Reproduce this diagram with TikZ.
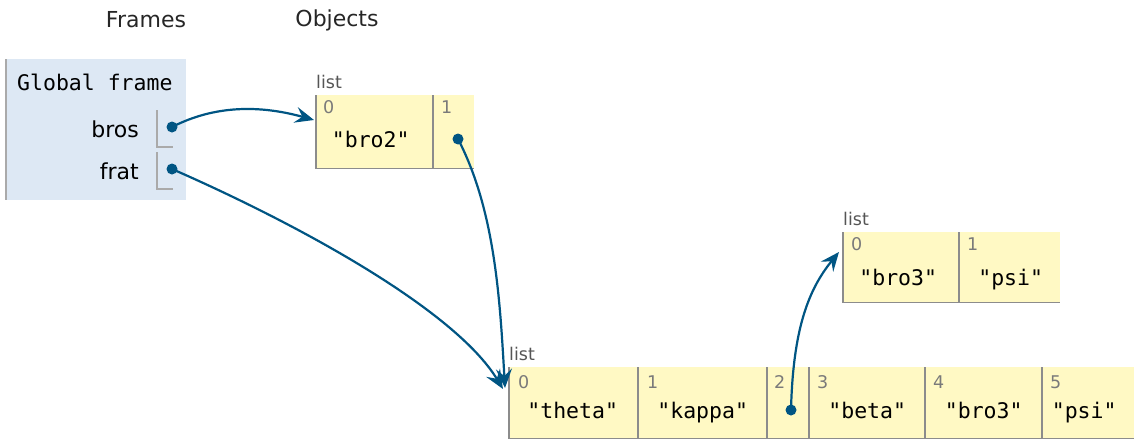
\documentclass[tikz,border=0pt]{standalone}
\usepackage{fontspec}
\setmainfont{DejaVu Sans}
\newfontfamily\monof{DejaVu Sans Mono}
\usetikzlibrary{arrows.meta,calc}
\definecolor{framebg}{HTML}{DDE8F4}
\definecolor{framebar}{HTML}{AAAAAA}
\definecolor{listbg}{HTML}{FFF9C4}
\definecolor{ptrblue}{HTML}{005583}
\definecolor{bordergray}{HTML}{8C8C8C}
\definecolor{idxgray}{HTML}{7A7A7A}
\definecolor{labgray}{HTML}{555555}
\tikzset{
  header/.style={font=\fontsize{22}{26}\selectfont, text=black!85, inner sep=0},
  frametitle/.style={font=\monof\fontsize{21.5}{25}\selectfont, anchor=base west, inner sep=0},
  varname/.style={font=\fontsize{22}{26}\selectfont, anchor=base east, inner sep=0},
  cellbox/.style={rectangle, fill=listbg, inner sep=0, anchor=north west},
  border/.style={draw=bordergray, line width=1.6pt},
  idx/.style={font=\fontsize{17.5}{21}\selectfont, text=idxgray, anchor=base west, inner sep=0},
  val/.style={font=\monof\fontsize{21.5}{25}\selectfont, anchor=base, inner sep=0},
  listlab/.style={font=\fontsize{17.5}{21}\selectfont, text=labgray, anchor=base west, inner sep=0},
  dot/.style={circle, fill=ptrblue, inner sep=0, minimum size=11pt},
  ptr/.style={draw=ptrblue, line width=2.2pt, -{Stealth[length=19pt, width=16pt, inset=7pt]}},
  slot/.style={draw=framebar, line width=1.3pt},
}
\begin{document}
\begin{tikzpicture}[x=1pt, y=-1pt]
\useasboundingbox (0,0) rectangle (1134,439);

% headers
\node[header] (hframes) at (146,20) {Frames};
\node[header] (hobjects) at (337,20) {Objects};

% global frame
\node[rectangle, fill=framebg, inner sep=0, anchor=north west,
      minimum width=180, minimum height=141] (gframe) at (6,59) {};
\draw[draw=framebar, line width=1.6pt] (gframe.north west) -- (gframe.south west);
\node[frametitle] (gtitle) at (17,90) {Global frame};
\node[varname] (vbros) at (139,137) {bros};
\node[varname] (vfrat) at (139,179) {frat};
\coordinate (s1) at (157,110);
\coordinate (s2) at (157,152);
\draw[slot] (s1) |- ++(16,37);
\draw[slot] (s2) |- ++(16,37);
\node[dot] (dbros) at (172,127) {};
\node[dot] (dfrat) at (172,169) {};

% list 1
\node[listlab] (l1lab) at (316,88) {list};
\node[cellbox, minimum width=117, minimum height=73] (a0) at (316,95) {};
\node[cellbox, minimum width=41, minimum height=73] (a1) at (433,95) {};
\draw[border] (a0.north west) |- (a0.south east);
\draw[border] (a1.north west) |- (a1.south east);
\node[idx] (a0i) at ($(a0.north west)+(7,18)$) {0};
\node[idx] (a1i) at ($(a1.north west)+(8,18)$) {1};
\node[val] (a0v) at ($(a0.north)+(-4,52)$) {"bro2"};
\node[dot] (da1) at (458,139) {};

% list 2
\node[listlab] (l2lab) at (843,225) {list};
\node[cellbox, minimum width=116, minimum height=70] (b0) at (843,232) {};
\node[cellbox, minimum width=101, minimum height=70] (b1) at (959,232) {};
\draw[border] (b0.north west) |- (b0.south east);
\draw[border] (b1.north west) |- (b1.south east);
\node[idx] (b0i) at ($(b0.north west)+(8,18)$) {0};
\node[idx] (b1i) at ($(b1.north west)+(8,18)$) {1};
\node[val] (b0v) at ($(b0.north)+(-3,53)$) {"bro3"};
\node[val] (b1v) at ($(b1.north)+(1,53)$) {"psi"};

% list 3
\node[listlab] (l3lab) at (509,360) {list};
\node[cellbox, minimum width=129, minimum height=71] (c0) at (509,367) {};
\node[cellbox, minimum width=129, minimum height=71] (c1) at (638,367) {};
\node[cellbox, minimum width=42, minimum height=71] (c2) at (767,367) {};
\node[cellbox, minimum width=116, minimum height=71] (c3) at (809,367) {};
\node[cellbox, minimum width=117, minimum height=71] (c4) at (925,367) {};
\node[cellbox, minimum width=92, minimum height=71] (c5) at (1042,367) {};
\foreach \c in {c0,c1,c2,c3,c4,c5} {
  \draw[border] (\c.north west) |- (\c.south east);
}
\node[idx] (c0i) at ($(c0.north west)+(9,21)$) {0};
\node[idx] (c1i) at ($(c1.north west)+(9,21)$) {1};
\node[idx] (c2i) at ($(c2.north west)+(7,21)$) {2};
\node[idx] (c3i) at ($(c3.north west)+(8,21)$) {3};
\node[idx] (c4i) at ($(c4.north west)+(8,21)$) {4};
\node[idx] (c5i) at ($(c5.north west)+(8,21)$) {5};
\node[val] (c0v) at ($(c0.north)+(-1,51)$) {"theta"};
\node[val] (c1v) at ($(c1.north)+(0,51)$) {"kappa"};
\node[val] (c3v) at ($(c3.north)+(0,51)$) {"beta"};
\node[val] (c4v) at ($(c4.north)+(0,51)$) {"bro3"};
\node[val] (c5v) at ($(c5.north)+(-4,51)$) {"psi"};
\node[dot] (dc2) at (791,410) {};

% pointer targets
\coordinate (ta0) at ($(a0.north west)+(-2,25)$);
\coordinate (tb0) at ($(b0.north west)+(-4,20)$);
\coordinate (tc0a) at ($(c0.north west)+(-4,21)$);
\coordinate (tc0b) at ($(c0.north west)+(-6,22)$);

% pointers
\draw[ptr] (dbros.center) .. controls (215,105) and (260,105) .. (ta0);
\draw[ptr] (dfrat.center) .. controls (300,225) and (455,310) .. (tc0b);
\draw[ptr] (da1.center) .. controls (495,210) and (500,300) .. (tc0a);
\draw[ptr] (dc2.center) .. controls (793,330) and (808,290) .. (tb0);
\end{tikzpicture}
\end{document}
